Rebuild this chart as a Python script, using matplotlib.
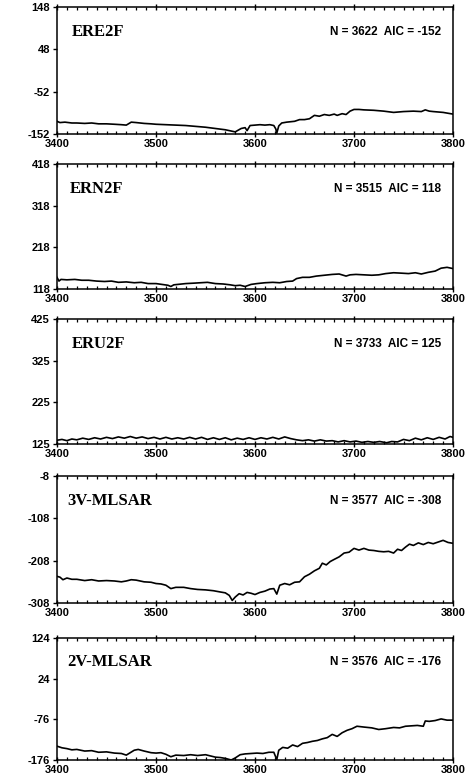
import matplotlib
matplotlib.use('Agg')
import matplotlib.pyplot as plt
import matplotlib.ticker as ticker

# plain hyphen for negative tick labels, as in the original
plt.rcParams['axes.unicode_minus'] = False

# Panel names and fit statistics
names = ['ERE2F', 'ERN2F', 'ERU2F', '3V-MLSAR', '2V-MLSAR']
n_vals = [3622, 3515, 3733, 3577, 3576]
aic_vals = [-152, 118, 125, -308, -176]

# Lower y limit of each panel (each axis spans 300 units)
y_low = [-152, 118, 125, -308, -176]

# ERE2F
x1 = [3400, 3403, 3408, 3415, 3420, 3428, 3435, 3442, 3450, 3458, 3465, 3470, 3475, 3480, 3488, 3495,
      3500, 3510, 3520, 3530, 3540, 3550, 3560, 3570, 3576, 3580, 3583, 3586, 3590, 3592, 3595, 3600,
      3605, 3610, 3615, 3619, 3621, 3622, 3624, 3627, 3632, 3640, 3645, 3650, 3655, 3660, 3665, 3670,
      3675, 3680, 3683, 3688, 3692, 3696, 3700, 3705, 3710, 3720, 3730, 3740, 3750, 3760, 3768, 3772,
      3776, 3780, 3790, 3800]
y1 = [-122, -125, -124, -126, -126, -127, -126, -128, -128, -129, -130, -131, -124, -125, -127, -128,
      -129, -130, -131, -132, -134, -136, -139, -142, -145, -147, -143, -139, -137, -144, -132, -131,
      -130, -131, -130, -132, -140, -150, -133, -126, -124, -122, -118, -118, -116, -108, -110, -106,
      -108, -105, -108, -104, -106, -98, -94, -94, -95, -96, -98, -101, -99, -98, -99, -95,
      -98, -99, -101, -105]

# ERN2F
x2 = [3400, 3402, 3404, 3410, 3418, 3425, 3432, 3440, 3448, 3455, 3462, 3470, 3478, 3485, 3492, 3500,
      3506, 3512, 3515, 3518, 3522, 3530, 3538, 3545, 3552, 3560, 3568, 3575, 3580, 3585, 3590, 3596,
      3602, 3610, 3618, 3625, 3632, 3638, 3642, 3648, 3655, 3662, 3670, 3678, 3685, 3692, 3696, 3702,
      3710, 3718, 3725, 3732, 3740, 3748, 3755, 3762, 3768, 3775, 3782, 3788, 3794, 3800]
y2 = [146, 137, 141, 140, 141, 139, 139, 137, 136, 137, 134, 135, 133, 134, 131, 131,
      129, 127, 124, 128, 129, 131, 132, 133, 134, 131, 130, 128, 126, 127, 124, 129,
      131, 133, 134, 133, 136, 137, 143, 146, 146, 149, 151, 153, 154, 149, 152, 153,
      152, 151, 152, 155, 157, 156, 155, 157, 154, 158, 161, 168, 170, 167]

# ERU2F
x3 = [3400, 3405, 3410, 3415, 3420, 3426, 3432, 3438, 3444, 3450, 3456, 3462, 3468, 3474, 3480, 3486,
      3492, 3498, 3504, 3510, 3516, 3522, 3528, 3534, 3540, 3546, 3552, 3558, 3564, 3570, 3576, 3582,
      3588, 3594, 3600, 3606, 3612, 3618, 3624, 3630, 3636, 3642, 3648, 3654, 3660, 3666, 3672, 3678,
      3684, 3690, 3696, 3702, 3708, 3714, 3720, 3726, 3733, 3738, 3744, 3750, 3756, 3762, 3768, 3774,
      3780, 3786, 3792, 3797, 3800]
y3 = [134, 136, 133, 137, 135, 139, 136, 140, 137, 141, 138, 142, 139, 143, 139, 142,
      138, 141, 137, 141, 137, 140, 137, 141, 137, 141, 136, 140, 136, 140, 135, 139,
      136, 140, 136, 140, 137, 141, 137, 142, 138, 135, 133, 135, 132, 135, 132, 133,
      130, 133, 130, 132, 129, 131, 129, 131, 128, 131, 130, 136, 133, 139, 135, 140,
      136, 141, 137, 143, 141]

# 3V-MLSAR
x4 = [3400, 3403, 3406, 3410, 3415, 3420, 3428, 3435, 3442, 3450, 3458, 3465, 3470, 3475, 3480, 3488,
      3495, 3500, 3505, 3510, 3515, 3520, 3528, 3535, 3542, 3550, 3558, 3565, 3570, 3574, 3577, 3580,
      3584, 3588, 3592, 3596, 3600, 3605, 3610, 3615, 3619, 3622, 3625, 3630, 3635, 3640, 3645, 3650,
      3655, 3660, 3665, 3668, 3672, 3676, 3680, 3685, 3690, 3695, 3700, 3705, 3710, 3715, 3720, 3725,
      3730, 3735, 3740, 3744, 3748, 3752, 3756, 3760, 3765, 3770, 3775, 3780, 3785, 3790, 3795, 3800]
y4 = [-245, -247, -253, -249, -252, -252, -255, -253, -256, -255, -256, -258, -256, -253, -254, -258,
      -259, -262, -263, -266, -274, -271, -271, -274, -276, -277, -279, -282, -284, -290, -302, -294,
      -286, -289, -283, -285, -288, -283, -280, -275, -274, -287, -266, -262, -265, -259, -258, -246,
      -240, -232, -226, -214, -218, -210, -205, -199, -190, -188, -179, -183, -179, -183, -184, -186,
      -187, -186, -190, -181, -184, -176, -169, -172, -166, -170, -165, -168, -164, -160, -165, -167]

# 2V-MLSAR
x5 = [3400, 3405, 3410, 3415, 3420, 3428, 3435, 3442, 3450, 3458, 3465, 3470, 3474, 3478, 3482, 3488,
      3495, 3500, 3505, 3510, 3515, 3520, 3528, 3535, 3542, 3550, 3555, 3560, 3565, 3570, 3576, 3580,
      3585, 3590, 3596, 3602, 3608, 3614, 3619, 3622, 3624, 3628, 3633, 3638, 3643, 3648, 3653, 3658,
      3663, 3668, 3673, 3678, 3683, 3688, 3693, 3698, 3703, 3710, 3718, 3725, 3732, 3740, 3746, 3752,
      3758, 3764, 3770, 3772, 3776, 3782, 3788, 3794, 3800]
y5 = [-142, -146, -148, -151, -150, -154, -153, -157, -156, -159, -160, -164, -158, -152, -150, -154,
      -158, -159, -158, -162, -168, -164, -165, -163, -165, -163, -166, -169, -170, -172, -176, -171,
      -163, -161, -160, -159, -160, -157, -157, -175, -152, -145, -147, -139, -143, -135, -133, -130,
      -128, -124, -121, -113, -118, -109, -103, -99, -93, -95, -97, -101, -99, -96, -97, -93,
      -92, -91, -93, -80, -81, -79, -75, -78, -78]

xs = [x1, x2, x3, x4, x5]
ys = [y1, y2, y3, y4, y5]

# Panel placement in pixels (top, bottom) on a 470x782 canvas
panel_px = [(7, 134), (164, 289), (319, 444), (476, 603), (638, 760)]
name_x = [0.038, 0.033, 0.038, 0.025, 0.025]

W, H = 470, 782
fig = plt.figure(figsize=(W / 100, H / 100), dpi=100)

for i in range(5):
    top, bot = panel_px[i]
    ax = fig.add_axes([57 / W, 1 - bot / H, 396 / W, (bot - top) / H])
    ax.plot(xs[i], ys[i], color='k', linewidth=1.2)

    ax.set_xlim(3400, 3800)
    ax.set_ylim(y_low[i], y_low[i] + 300)

    # x axis: majors every 100, minors every 10, on both top and bottom
    ax.xaxis.set_major_locator(ticker.MultipleLocator(100))
    ax.xaxis.set_minor_locator(ticker.MultipleLocator(10))
    ax.tick_params(axis='x', which='major', direction='inout', length=5, width=1.0,
                   top=True, pad=1, labelsize=8)
    ax.tick_params(axis='x', which='minor', direction='in', length=2.5, width=0.9, top=True)

    # y axis: four ticks only, left side
    ax.set_yticks([y_low[i] + 100 * k for k in range(4)])
    ax.tick_params(axis='y', which='major', direction='out', length=3, width=1.0,
                   right=False, pad=2, labelsize=8)

    for lab in ax.get_xticklabels() + ax.get_yticklabels():
        lab.set_fontweight('bold')
        lab.set_fontfamily('Liberation Sans')

    for sp in ax.spines.values():
        sp.set_linewidth(1.1)

    ax.text(name_x[i], 0.80, names[i], transform=ax.transAxes, fontsize=12,
            fontweight='bold', fontfamily='Liberation Serif', va='center', ha='left')
    ax.text(0.97, 0.80, 'N = %d  AIC = %d' % (n_vals[i], aic_vals[i]), transform=ax.transAxes,
            fontsize=8.5, fontweight='bold', fontfamily='Liberation Sans', va='center', ha='right')

fig.savefig('out.png', dpi=100)
